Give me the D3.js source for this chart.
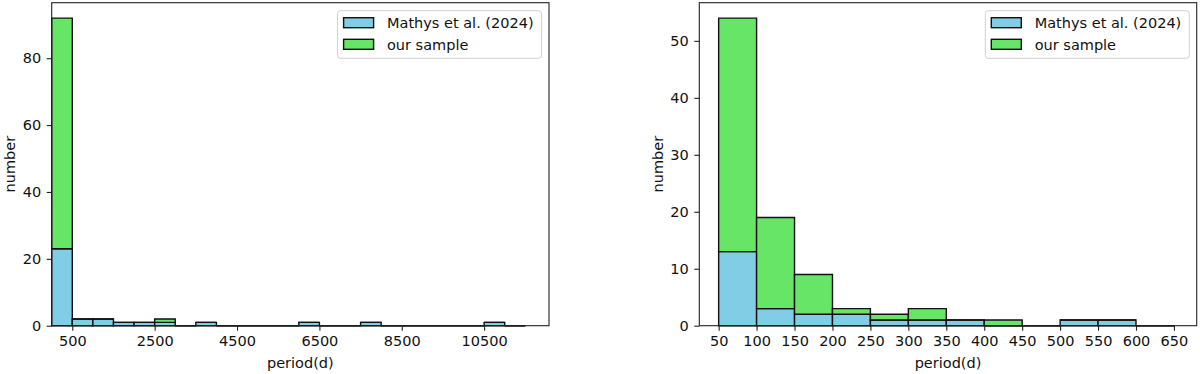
<!DOCTYPE html>
<html>
<head>
<meta charset="utf-8">
<script src="https://cdn.jsdelivr.net/npm/d3@7"></script>
<style>
  body { margin: 0; background: #fff; }
  svg { display: block; font-family: "DejaVu Sans", sans-serif; }
</style>
</head>
<body>
<svg id="chart" width="1200" height="374"></svg>
<script>
  'use strict';

  // Left panel: all periods, bins of 500 d
  var leftEdges = [0, 500, 1000, 1500, 2000, 2500, 3000, 3500, 4000, 4500, 5000, 5500,
    6000, 6500, 7000, 7500, 8000, 8500, 9000, 9500, 10000, 10500, 11000, 11500];
  var leftMathys = [23, 2, 2, 1, 1, 1, 0, 1, 0, 0, 0, 0, 1, 0, 0, 1, 0, 0, 0, 0, 0, 1, 0];
  var leftOurs = [69, 0, 0, 0, 0, 1, 0, 0, 0, 0, 0, 0, 0, 0, 0, 0, 0, 0, 0, 0, 0, 0, 0];
  var leftXTicks = [500, 2500, 4500, 6500, 8500, 10500];
  var leftYTicks = [0, 20, 40, 60, 80];

  // Right panel: short periods, bins of 50 d
  var rightEdges = [50, 100, 150, 200, 250, 300, 350, 400, 450, 500, 550, 600, 650];
  var rightMathys = [13, 3, 2, 2, 1, 1, 1, 0, 0, 1, 1, 0];
  var rightOurs = [41, 16, 7, 1, 1, 2, 0, 1, 0, 0, 0, 0];
  var rightXTicks = [50, 100, 150, 200, 250, 300, 350, 400, 450, 500, 550, 600, 650];
  var rightYTicks = [0, 10, 20, 30, 40, 50];

  var seriesNames = ["Mathys et al. (2024)", "our sample"];
  var seriesColors = ["#82cde6", "#66e566"];

  var FONT = 14.5;
  var svg = d3.select("#chart");

  function panel(opts) {
    var x = d3.scaleLinear().domain(opts.xDomain).range([opts.left, opts.right]);
    var y = d3.scaleLinear().domain(opts.yDomain).range([opts.bottom, opts.top]);
    var g = svg.append("g");

    // stacked bins, first series at the bottom
    var stacks = [opts.mathys, opts.ours];
    var base = opts.mathys.map(function() { return 0; });
    stacks.forEach(function(vals, si) {
      var bars = vals.map(function(v, i) {
        var b = { x0: opts.edges[i], x1: opts.edges[i + 1], y0: base[i], y1: base[i] + v };
        base[i] += v;
        return b;
      });
      g.append("g").selectAll("path")
        .data(bars)
        .join("path")
        .attr("d", function(b) {
          var p = d3.path();
          p.rect(x(b.x0), y(b.y1), x(b.x1) - x(b.x0), y(b.y0) - y(b.y1));
          return p.toString();
        })
        .attr("fill", seriesColors[si])
        .attr("stroke", "#111")
        .attr("stroke-width", 1.4);
    });

    var xAxis = g.append("g")
      .attr("transform", "translate(0," + opts.bottom + ")")
      .call(d3.axisBottom(x).tickValues(opts.xTicks).tickSize(5).tickPadding(5.5).tickFormat(d3.format("d")));
    var yAxis = g.append("g")
      .attr("transform", "translate(" + opts.left + ",0)")
      .call(d3.axisLeft(y).tickValues(opts.yTicks).tickSize(5).tickPadding(5.5).tickFormat(d3.format("d")));
    [xAxis, yAxis].forEach(function(a) {
      a.select(".domain").remove();
      a.attr("font-family", "DejaVu Sans").attr("font-size", FONT);
      a.selectAll(".tick line").attr("stroke", "#222").attr("stroke-width", 1.1);
      a.selectAll(".tick text").attr("fill", "#111");
    });

    // spines
    g.append("rect")
      .attr("x", opts.left).attr("y", opts.top)
      .attr("width", opts.right - opts.left).attr("height", opts.bottom - opts.top)
      .attr("fill", "none").attr("stroke", "#222").attr("stroke-width", 1.1);

    g.append("text")
      .attr("x", (opts.left + opts.right) / 2).attr("y", 367.5)
      .attr("text-anchor", "middle").attr("font-size", FONT).attr("fill", "#111")
      .text("period(d)");
    g.append("text")
      .attr("transform", "translate(" + (opts.left - 36.5) + "," + ((opts.top + opts.bottom) / 2) + ") rotate(-90)")
      .attr("text-anchor", "middle").attr("font-size", FONT).attr("fill", "#111")
      .text("number");

    // legend
    var lw = 204, lh = 47.6;
    var lx = opts.right - 7.4 - lw, ly = opts.top + 8;
    var leg = g.append("g").attr("transform", "translate(" + lx + "," + ly + ")");
    leg.append("rect")
      .attr("width", lw).attr("height", lh).attr("rx", 3)
      .attr("fill", "rgba(255,255,255,0.8)").attr("stroke", "#d0d0d0").attr("stroke-width", 1);
    seriesNames.forEach(function(name, i) {
      leg.append("rect")
        .attr("x", 6).attr("y", 7 + i * 21.6).attr("width", 30).attr("height", 10)
        .attr("fill", seriesColors[i]).attr("stroke", "#111").attr("stroke-width", 1.4);
      leg.append("text")
        .attr("x", 49.4).attr("y", 12.3 + i * 21.6).attr("dy", "0.35em")
        .attr("font-size", FONT).attr("fill", "#111")
        .text(name);
    });
  }

  panel({
    left: 51.7, right: 549, top: 2.7, bottom: 325.7,
    xDomain: [0, 12075], yDomain: [0, 96.6],
    edges: leftEdges, mathys: leftMathys, ours: leftOurs,
    xTicks: leftXTicks, yTicks: leftYTicks
  });
  panel({
    left: 699.3, right: 1196.7, top: 2.7, bottom: 325.7,
    xDomain: [24.5, 680], yDomain: [0, 56.7],
    edges: rightEdges, mathys: rightMathys, ours: rightOurs,
    xTicks: rightXTicks, yTicks: rightYTicks
  });
</script>
</body>
</html>
